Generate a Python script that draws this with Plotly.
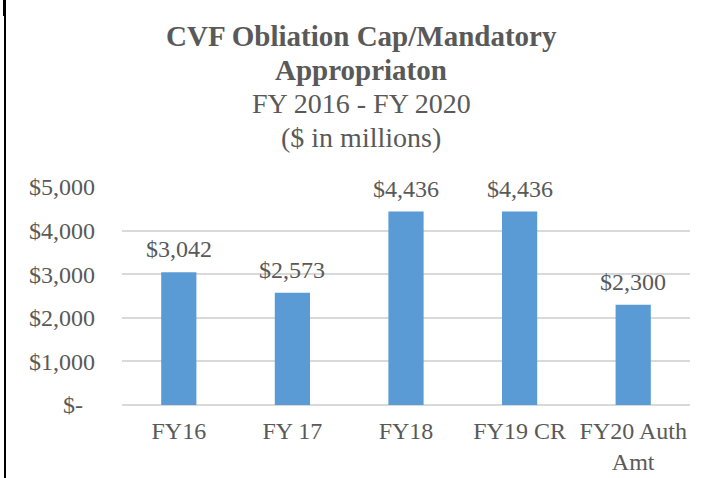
import plotly.graph_objects as go

categories = ["FY16", "FY 17", "FY18", "FY19 CR", "FY20 Auth<br>Amt"]
values = [3042, 2573, 4436, 4436, 2300]
tick_vals = [0, 1000, 2000, 3000, 4000, 5000]
tick_text = ["$-\u00a0\u00a0", "$1,000", "$2,000", "$3,000", "$4,000", "$5,000"]
title_lines = ["<b>CVF Obliation Cap/Mandatory</b>", "<b>Appropriaton</b>", "FY 2016 - FY 2020", "($ in millions)"]

W, H = 713, 478
L, R, T, B = 122, 23, 187, 73
pw, ph = W - L - R, H - T - B
FONT = "Liberation Serif, Times New Roman, serif"
GREY = "#595959"

def px_x(x):
    return (x - L) / pw

def px_y(y):
    return (H - B - y) / ph

fig = go.Figure()
fig.add_trace(go.Bar(x=categories, y=values, marker=dict(color="#5B9BD5", line=dict(width=0)),
                     hoverinfo="skip"))

for c, v in zip(categories, values):
    fig.add_annotation(x=c, y=v, xref="x", yref="y", text="$" + f"{v:,}", showarrow=False,
                       yanchor="bottom", yshift=8, font=dict(family=FONT, size=24, color=GREY))

centers = [36, 70, 104, 137]
for i, (t, c) in enumerate(zip(title_lines, centers)):
    fig.add_annotation(x=px_x(361), y=px_y(c), xref="paper", yref="paper", text=t,
                       showarrow=False, xanchor="center", yanchor="middle",
                       font=dict(family=FONT, size=29 if i < 2 else 28, color=GREY))

# left border
fig.add_shape(type="rect", xref="paper", yref="paper", x0=px_x(4), x1=px_x(6), y0=px_y(H), y1=px_y(0),
              fillcolor="black", line=dict(width=0), layer="above")
fig.add_shape(type="rect", xref="paper", yref="paper", x0=px_x(3), x1=px_x(6), y0=px_y(16), y1=px_y(0),
              fillcolor="black", line=dict(width=0), layer="above")

fig.update_layout(
    width=W, height=H,
    margin=dict(l=L, r=R, t=T, b=B, pad=0, autoexpand=False),
    paper_bgcolor="white", plot_bgcolor="white",
    bargap=0.69, showlegend=False,
    font=dict(family=FONT, size=24, color=GREY),
)
fig.update_xaxes(showgrid=False, showline=False, zeroline=False, ticks="", automargin=False,
                 tickfont=dict(family=FONT, size=24, color=GREY), ticklabelstandoff=9)
fig.update_yaxes(range=[0, 5000], tickvals=tick_vals, ticktext=tick_text, automargin=False,
                 showgrid=True, gridcolor="#D9D9D9", gridwidth=1.5,
                 zeroline=True, zerolinecolor="#D9D9D9", zerolinewidth=1.5,
                 showline=False, ticks="", ticklabelstandoff=26,
                 tickfont=dict(family=FONT, size=24, color=GREY))

fig.write_html("out.html", config={"displayModeBar": False},
               post_script="document.body.style.margin='0';document.body.style.padding='0';")
